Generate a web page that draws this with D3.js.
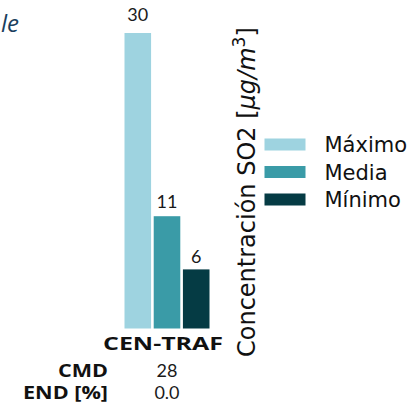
<!DOCTYPE html>
<html>
<head>
<meta charset="utf-8">
<script src="https://cdn.jsdelivr.net/npm/d3@7/dist/d3.min.js"></script>
<style>
  html, body { margin: 0; padding: 0; background: #fff; }
  svg { display: block; }
</style>
</head>
<body>
<script>
// ---- data ----
const categories = ["CEN-TRAF"];
const seriesNames = ["Máximo", "Media", "Mínimo"];
const seriesColors = ["#9ed3e0", "#3a9ba7", "#053b44"];
const maximo = [30.0];
const media = [11.4];
const minimo = [6.0];
const cmdValues = ["28"];
const endValues = ["0.0"];
const rowLabels = ["CMD", "END [%]"];
const yMax = 30;

const W = 415, H = 406;
const svg = d3.select("body").append("svg").attr("width", W).attr("height", H);

const seriesValues = [maximo, media, minimo];

// scales
const x0 = d3.scaleBand().domain(categories).range([124.5, 209.5]).padding(0);
const x1 = d3.scaleBand().domain(seriesNames).range([0, x0.bandwidth()]).paddingInner(0.09).paddingOuter(0);
const y = d3.scaleLinear().domain([0, yMax]).range([328.5, 33]);
const color = d3.scaleOrdinal().domain(seriesNames).range(seriesColors);

const numFont = "Lato, 'Open Sans', sans-serif";
const boldFont = "'Open Sans', sans-serif";

// partial title
svg.append("text")
  .attr("x", 1).attr("y", 32)
  .attr("font-family", "'Open Sans', sans-serif")
  .attr("font-style", "italic")
  .attr("font-size", 24)
  .attr("fill", "#1b3f5e")
  .text("le");

// bars
const catG = svg.selectAll("g.cat").data(categories).enter().append("g")
  .attr("class", "cat")
  .attr("transform", d => `translate(${x0(d)},0)`);

categories.forEach((c, ci) => {
  const g = catG.filter(d => d === c);
  const rows = seriesNames.map((s, si) => ({ s, v: seriesValues[si][ci] }));
  g.selectAll("rect").data(rows).enter().append("rect")
    .attr("x", d => x1(d.s))
    .attr("y", d => y(d.v))
    .attr("width", x1.bandwidth())
    .attr("height", d => y(0) - y(d.v))
    .attr("fill", d => color(d.s));
  g.selectAll("text.val").data(rows).enter().append("text")
    .attr("class", "val")
    .attr("x", d => x1(d.s) + x1.bandwidth() / 2)
    .attr("y", d => y(d.v) - 5 - 0.025 * (y(0) - y(d.v)))
    .attr("text-anchor", "middle")
    .attr("font-family", numFont)
    .attr("font-size", 18)
    .attr("fill", "#1a1a1a")
    .text(d => d3.format(".0f")(d.v));
});

// category label
svg.selectAll("text.catlab").data(categories).enter().append("text")
  .attr("class", "catlab")
  .attr("x", d => x0(d) + x0.bandwidth() / 2 - 4)
  .attr("y", 350)
  .attr("text-anchor", "middle")
  .attr("font-family", boldFont)
  .attr("font-weight", 700)
  .attr("font-size", 17)
  .attr("fill", "#111")
  .attr("textLength", 120)
  .attr("lengthAdjust", "spacingAndGlyphs")
  .text(d => d);

// table rows
const tableData = [cmdValues, endValues];
const rowY = [377, 399];
const rowLabelLen = [50, 85];
rowLabels.forEach((lab, ri) => {
  svg.append("text")
    .attr("x", 108).attr("y", rowY[ri])
    .attr("text-anchor", "end")
    .attr("font-family", boldFont)
    .attr("font-weight", 700)
    .attr("font-size", 17)
    .attr("fill", "#111")
    .attr("textLength", rowLabelLen[ri])
    .attr("lengthAdjust", "spacingAndGlyphs")
    .text(lab);
  svg.selectAll(null).data(categories).enter().append("text")
    .attr("x", d => x0(d) + x0.bandwidth() / 2)
    .attr("y", rowY[ri])
    .attr("text-anchor", "middle")
    .attr("font-family", numFont)
    .attr("font-size", 18)
    .attr("fill", "#1a1a1a")
    .text((d, i) => tableData[ri][i]);
});

// y-axis label (rotated)
const yl = svg.append("text")
  .attr("transform", "translate(255,357) rotate(-90)")
  .attr("text-anchor", "start")
  .attr("font-family", "'DejaVu Sans', sans-serif")
  .attr("font-size", 24)
  .attr("fill", "#111");
yl.append("tspan").text("Concentración SO2 [");
yl.append("tspan").attr("font-style", "italic").text("μg/m");
yl.append("tspan").attr("font-size", 17).attr("dy", -10).text("3");
yl.append("tspan").attr("dy", 10).text("]");

// legend
const leg = svg.append("g");
const legItems = leg.selectAll("g").data(seriesNames).enter().append("g")
  .attr("transform", (d, i) => `translate(264.5,${144.5 + i * 27.5})`);
legItems.append("rect")
  .attr("x", 0).attr("y", -6).attr("width", 41).attr("height", 12)
  .attr("fill", d => color(d));
legItems.append("text")
  .attr("x", 60).attr("y", 0).attr("dy", "0.36em")
  .attr("font-family", "'DejaVu Sans', sans-serif")
  .attr("font-size", 21)
  .attr("fill", "#111")
  .text(d => d);
</script>
</body>
</html>
